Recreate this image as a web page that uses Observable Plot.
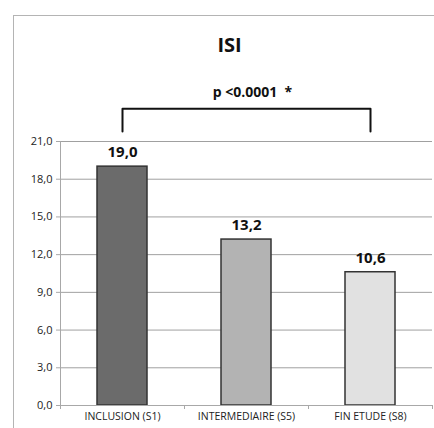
<!DOCTYPE html>
<html>
<head>
<meta charset="utf-8">
<script src="https://cdn.jsdelivr.net/npm/d3@7"></script>
<script src="https://cdn.jsdelivr.net/npm/@observablehq/plot@0.6"></script>
<style>
  html, body { margin: 0; padding: 0; background: #fff; }
  #wrap { position: relative; width: 434px; height: 428px; overflow: hidden; }
  #frame { position: absolute; left: 13px; top: 15px; width: 440px; height: 440px;
           border-left: 1px solid #b4b4b4; border-top: 1px solid #b4b4b4; }
  #chart { position: absolute; left: 0; top: 0; }
</style>
</head>
<body>
<div id="wrap"><div id="frame"></div><div id="chart"></div></div>
<script>
const categories = ["INCLUSION (S1)", "INTERMEDIAIRE (S5)", "FIN ETUDE (S8)"];
const values = [19.0, 13.2, 10.6];
const barColors = ["#6b6b6b", "#b3b3b3", "#e1e1e1"];
const yTicks = [0, 3, 6, 9, 12, 15, 18, 21];
const title = "ISI";
const pLabel = "p <0.0001  *";
const bracketFrom = categories[0];
const bracketTo = categories[2];
const bracketTop = 23.6;
const bracketBottom = 21.8;
const pLabelY = 24.9;

const data = categories.map((c, i) => ({cat: c, value: values[i], color: barColors[i]}));
const fmt = v => d3.format(".1f")(v).replace(".", ",");
const font = "'Open Sans', 'Liberation Sans', sans-serif";

const bracket = [
  {x: bracketFrom, y: bracketBottom},
  {x: bracketFrom, y: bracketTop},
  {x: bracketTo, y: bracketTop},
  {x: bracketTo, y: bracketBottom}
];

// axis lines: vertical y-axis line and category-boundary ticks on the x axis
// (paddingOuter = paddingInner / 2, so the band boundaries split the frame evenly)
function axisLines(index, scales, values, dims) {
  const left = dims.marginLeft, right = dims.width - dims.marginRight;
  const top = dims.marginTop, bottom = dims.height - dims.marginBottom;
  const n = categories.length;
  const g = d3.create("svg:g").attr("stroke", "#a8a8a8").attr("stroke-width", 1);
  g.append("line").attr("x1", left + 0.5).attr("x2", left + 0.5).attr("y1", top).attr("y2", bottom);
  for (let i = 0; i <= n; i++) {
    const px = Math.round(left + (right - left) * i / n) + 0.5;
    g.append("line").attr("x1", px).attr("x2", px).attr("y1", bottom).attr("y2", bottom + 4);
  }
  return g.node();
}

const chart = Plot.plot({
  width: 434,
  height: 428,
  marginLeft: 60,
  marginRight: 2,
  marginTop: 141,
  marginBottom: 23,
  style: {fontFamily: font, background: "transparent", overflow: "visible"},
  x: {domain: categories, paddingInner: 0.6, paddingOuter: 0.3, axis: null, label: null},
  y: {domain: [0, 21], axis: null, label: null},
  marks: [
    Plot.ruleY(yTicks, {stroke: "#a0a0a0", strokeWidth: 1}),
    Plot.axisY(yTicks, {tickFormat: fmt, tickSize: 4, tickPadding: 4, stroke: "#a8a8a8",
      fontSize: 11, fill: "#222", label: null}),
    Plot.barY(data, {x: "cat", y: "value", fill: "color", stroke: "#333", strokeWidth: 1.5}),
    Plot.ruleY([0], {stroke: "#a8a8a8"}),
    axisLines,
    Plot.axisX({tickSize: 0, tickPadding: 7, fontSize: 10.5, fill: "#222", label: null}),
    Plot.text(data, {x: "cat", y: "value", text: d => fmt(d.value), dy: -14,
      fontSize: 15, fontWeight: "bold", fill: "#111"}),
    Plot.line(bracket, {x: "x", y: "y", stroke: "#111", strokeWidth: 2, curve: "linear"}),
    Plot.text([pLabel], {x: () => categories[1], y: pLabelY, text: d => d, dx: 6,
      fontSize: 14, fontWeight: "bold", fill: "#111"}),
    Plot.text([title], {frameAnchor: "top", dx: -17, dy: -104, text: d => d,
      fontSize: 20, fontWeight: "bold", fill: "#111"})
  ]
});
document.getElementById("chart").appendChild(chart);
</script>
</body>
</html>
